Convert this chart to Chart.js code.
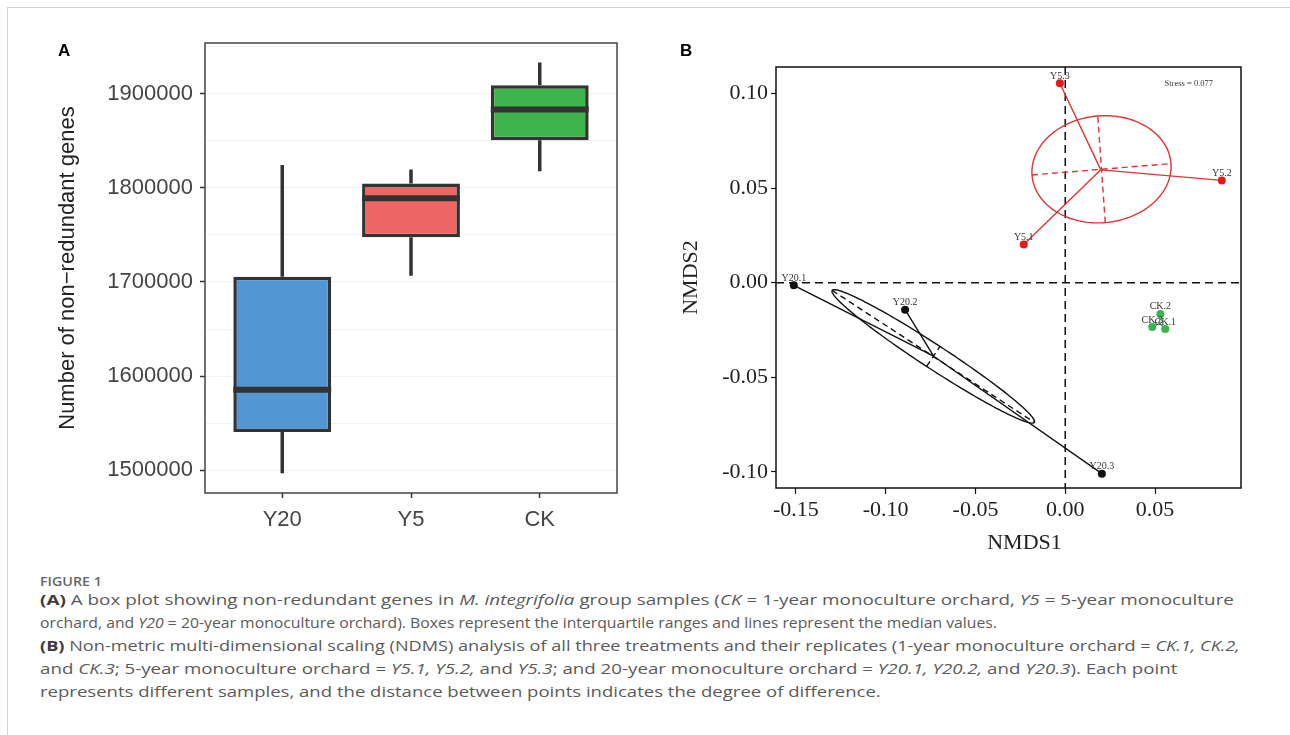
<!DOCTYPE html>
<html>
<head>
<meta charset="utf-8">
<title>Figure 1</title>
<script src="https://cdn.jsdelivr.net/npm/chart.js@4.4.1/dist/chart.umd.min.js"></script>
<style>
  body { margin: 0; background: #fff; width: 1290px; height: 735px; position: relative; overflow: hidden; font-family: "Open Sans", sans-serif; }
  .frame { position: absolute; left: 7px; top: 7px; right: -2px; bottom: -2px; border-top: 1px solid #d2d2d2; border-left: 1px solid #d2d2d2; }
  #boxA { position: absolute; left: 0; top: 0; }
  #nmdsB { position: absolute; left: 640px; top: 0; }
  .plab { position: absolute; font: bold 17px "Liberation Sans", Arial, sans-serif; color: #000; line-height: 17px; }
  .fig { position: absolute; left: 40px; top: 573px; font-size: 13px; line-height: 16px; font-weight: 600; color: #666; transform: scaleX(1.1); transform-origin: 0 0; }
  .cap { position: absolute; left: 40px; top: 588px; font-size: 15px; line-height: 23px; color: #5a5a5a; white-space: nowrap; }
  .cap div { transform-origin: 0 0; }
  .cap b { color: #3c3c3c; }
</style>
</head>
<body>
<div class="frame"></div>
<canvas id="boxA" width="640" height="560"></canvas>
<canvas id="nmdsB" width="650" height="560"></canvas>
<div class="plab" style="left:58px;top:42px;">A</div>
<div class="plab" style="left:680px;top:42px;">B</div>
<div class="fig">FIGURE 1</div>
<div class="cap">
<div style="transform:scaleX(1.257)"><b>(A)</b> A box plot showing non-redundant genes in <i>M. integrifolia</i> group samples (<i>CK</i> = 1-year monoculture orchard, <i>Y5</i> = 5-year monoculture</div>
<div style="transform:scaleX(1.051)">orchard, and <i>Y20</i> = 20-year monoculture orchard). Boxes represent the interquartile ranges and lines represent the median values.</div>
<div style="transform:scaleX(1.209)"><b>(B)</b> Non-metric multi-dimensional scaling (NDMS) analysis of all three treatments and their replicates (1-year monoculture orchard = <i>CK.1, CK.2,</i></div>
<div style="transform:scaleX(1.248)">and <i>CK.3</i>; 5-year monoculture orchard = <i>Y5.1, Y5.2,</i> and <i>Y5.3</i>; and 20-year monoculture orchard = <i>Y20.1, Y20.2,</i> and <i>Y20.3</i>). Each point</div>
<div style="transform:scaleX(1.236)">represents different samples, and the distance between points indicates the degree of difference.</div>
</div>
<script>
// ---- panel A: box plot ----
const groups = ['Y20', 'Y5', 'CK'];
const whiskerLow = [1497000, 1706700, 1817600];
const q1 = [1540700, 1747400, 1850500];
const median = [1585500, 1788700, 1883000];
const q3 = [1705600, 1804600, 1908800];
const whiskerHigh = [1824000, 1819400, 1932900];
const boxColors = ['#5396d4', '#ef6464', '#3cb44a'];
const yTicksA = [1500000, 1550000, 1600000, 1650000, 1700000, 1750000, 1800000, 1850000, 1900000, 1950000];

// ---- panel B: NMDS ----
const y20Names = ['Y20.1', 'Y20.2', 'Y20.3'];
const y20X = [-0.1512, -0.0892, 0.0204];
const y20Y = [-0.0014, -0.0143, -0.1010];
const y5Names = ['Y5.1', 'Y5.2', 'Y5.3'];
const y5X = [-0.0231, 0.0872, -0.0030];
const y5Y = [0.0202, 0.0541, 0.1055];
const ckNames = ['CK.1', 'CK.2', 'CK.3'];
const ckX = [0.0557, 0.0530, 0.0485];
const ckY = [-0.0245, -0.0165, -0.0235];
// spider hubs and ellipse (centre, half major axis, half minor axis)
const y20Hub = [-0.0733, -0.0389];
const y20Centre = [-0.0735, -0.0390];
const y20Major = [0.0563, -0.0349];
const y20Minor = [0.0037, 0.0053];
const y5Hub = [0.0198, 0.0597];
const y5Centre = [0.0202, 0.0600];
const y5Major = [0.0387, 0.0030];
const y5Minor = [-0.0021, 0.0282];
const ckHub = [0.0524, -0.0215];
const xTicksB = [-0.15, -0.10, -0.05, 0, 0.05];
const yTicksB = [-0.10, -0.05, 0, 0.05, 0.10];
const stressText = 'Stress = 0.077';

Chart.defaults.font.family = '"Liberation Sans", Arial, sans-serif';
Chart.defaults.color = '#444';

const boxDecor = {
  id: 'boxDecor',
  beforeDatasetsDraw(chart) {
    const { ctx, scales: { x, y } } = chart;
    ctx.save();
    ctx.strokeStyle = '#333';
    ctx.lineWidth = 3.5;
    groups.forEach((g, i) => {
      const px = x.getPixelForValue(i + 1);
      ctx.beginPath();
      ctx.moveTo(px, y.getPixelForValue(whiskerLow[i]));
      ctx.lineTo(px, y.getPixelForValue(q1[i]));
      ctx.moveTo(px, y.getPixelForValue(q3[i]));
      ctx.lineTo(px, y.getPixelForValue(whiskerHigh[i]));
      ctx.stroke();
    });
    ctx.restore();
  },
  afterDatasetsDraw(chart) {
    const { ctx, chartArea: a, scales: { y } } = chart;
    const bars = chart.getDatasetMeta(0).data;
    ctx.save();
    ctx.strokeStyle = '#333';
    ctx.lineWidth = 6;
    bars.forEach((b, i) => {
      const py = y.getPixelForValue(median[i]);
      ctx.beginPath();
      ctx.moveTo(b.x - b.width / 2, py);
      ctx.lineTo(b.x + b.width / 2, py);
      ctx.stroke();
    });
    ctx.lineWidth = 1.5;
    ctx.strokeStyle = '#444';
    ctx.strokeRect(a.left, a.top, a.right - a.left, a.bottom - a.top);
    ctx.restore();
  }
};

new Chart(document.getElementById('boxA'), {
  type: 'bar',
  data: {
    datasets: [{
      data: groups.map((g, i) => ({ x: i + 1, y: [q1[i], q3[i]] })),
      backgroundColor: boxColors,
      borderColor: '#333',
      borderWidth: 3.5,
      borderSkipped: false,
      barPercentage: 0.76,
      categoryPercentage: 1
    }]
  },
  options: {
    responsive: false,
    animation: false,
    layout: { padding: { top: 43, right: 23, left: 0, bottom: 0 } },
    plugins: { legend: { display: false }, tooltip: { enabled: false } },
    scales: {
      x: {
        type: 'linear',
        min: 0.4,
        max: 3.6,
        offset: false,
        afterBuildTicks: s => { s.ticks = groups.map((g, i) => ({ value: i + 1 })); },
        afterFit: s => { s.height = 67; },
        grid: { offset: false, drawOnChartArea: false, tickLength: 5, tickColor: '#333', tickWidth: 1.5 },
        border: { display: false },
        ticks: { padding: 9, color: '#444', font: { size: 22 }, callback: (v, i) => groups[i] }
      },
      y: {
        min: 1476000,
        max: 1953600,
        afterBuildTicks: s => { s.ticks = yTicksA.map(v => ({ value: v })); },
        afterFit: s => { s.width = 205; },
        grid: {
          color: '#f2f2f2',
          lineWidth: 1,
          tickLength: 5,
          tickWidth: 1.5,
          tickColor: c => (c.tick && c.tick.value % 100000 === 0 ? '#333' : 'rgba(0,0,0,0)')
        },
        border: { display: false },
        ticks: { padding: 7, color: '#444', font: { size: 22 }, callback: v => (v % 100000 === 0 ? String(v) : '') },
        title: { display: true, text: 'Number of non\u2212redundant genes', color: '#222', font: { size: 22 }, padding: { top: 55, bottom: 0 } }
      }
    }
  },
  plugins: [boxDecor]
});

// ---- panel B ----
const groupsB = [
  { names: y20Names, xs: y20X, ys: y20Y, hub: y20Hub, centre: y20Centre, major: y20Major, minor: y20Minor, point: '#111', line: '#111' },
  { names: y5Names, xs: y5X, ys: y5Y, hub: y5Hub, centre: y5Centre, major: y5Major, minor: y5Minor, point: '#e31a1c', line: '#dd3434' },
  { names: ckNames, xs: ckX, ys: ckY, hub: ckHub, centre: null, major: null, minor: null, point: '#3cb44a', line: '#3cb44a' }
];
const serif = '"Liberation Serif", "Times New Roman", serif';

const nmdsDecor = {
  id: 'nmdsDecor',
  beforeDatasetsDraw(chart) {
    const { ctx, chartArea: a, scales: { x, y } } = chart;
    ctx.save();
    ctx.strokeStyle = '#111';
    ctx.lineWidth = 1.5;
    ctx.setLineDash([8, 5]);
    const x0 = x.getPixelForValue(0), y0 = y.getPixelForValue(0);
    ctx.beginPath();
    ctx.moveTo(x0, a.top); ctx.lineTo(x0, a.bottom);
    ctx.moveTo(a.left, y0); ctx.lineTo(a.right, y0);
    ctx.stroke();
    groupsB.forEach(g => {
      ctx.strokeStyle = g.line;
      ctx.lineWidth = 1.4;
      ctx.setLineDash([]);
      const hx = x.getPixelForValue(g.hub[0]), hy = y.getPixelForValue(g.hub[1]);
      ctx.beginPath();
      g.xs.forEach((v, i) => {
        ctx.moveTo(hx, hy);
        ctx.lineTo(x.getPixelForValue(v), y.getPixelForValue(g.ys[i]));
      });
      ctx.stroke();
      if (!g.centre) return;
      const cx = x.getPixelForValue(g.centre[0]), cy = y.getPixelForValue(g.centre[1]);
      const ux = x.getPixelForValue(g.centre[0] + g.major[0]) - cx;
      const uy = y.getPixelForValue(g.centre[1] + g.major[1]) - cy;
      const vx = x.getPixelForValue(g.centre[0] + g.minor[0]) - cx;
      const vy = y.getPixelForValue(g.centre[1] + g.minor[1]) - cy;
      ctx.beginPath();
      for (let k = 0; k <= 180; k++) {
        const t = k / 180 * Math.PI * 2;
        const px = cx + ux * Math.cos(t) + vx * Math.sin(t);
        const py = cy + uy * Math.cos(t) + vy * Math.sin(t);
        if (k === 0) ctx.moveTo(px, py); else ctx.lineTo(px, py);
      }
      ctx.stroke();
      ctx.setLineDash([6, 4]);
      ctx.beginPath();
      ctx.moveTo(cx - ux, cy - uy); ctx.lineTo(cx + ux, cy + uy);
      ctx.moveTo(cx - vx, cy - vy); ctx.lineTo(cx + vx, cy + vy);
      ctx.stroke();
    });
    ctx.restore();
  },
  afterDatasetsDraw(chart) {
    const { ctx, chartArea: a, scales: { x, y } } = chart;
    ctx.save();
    ctx.fillStyle = '#333';
    ctx.font = '10px ' + serif;
    ctx.textAlign = 'center';
    ctx.textBaseline = 'alphabetic';
    groupsB.forEach(g => {
      g.names.forEach((n, i) => {
        ctx.fillText(n, x.getPixelForValue(g.xs[i]), y.getPixelForValue(g.ys[i]) - 4.5);
      });
    });
    ctx.font = '8.5px ' + serif;
    ctx.textAlign = 'right';
    ctx.textBaseline = 'middle';
    ctx.fillText(stressText, a.right - 28, a.top + 17);
    ctx.font = '22px ' + serif;
    ctx.fillStyle = '#222';
    ctx.textAlign = 'center';
    ctx.fillText('NMDS1', (a.left + a.right) / 2 + 16, 543);
    ctx.strokeStyle = '#111';
    ctx.lineWidth = 1.5;
    ctx.strokeRect(a.left, a.top, a.right - a.left, a.bottom - a.top);
    ctx.restore();
  }
};

new Chart(document.getElementById('nmdsB'), {
  type: 'scatter',
  data: {
    datasets: groupsB.map(g => ({
      data: g.xs.map((v, i) => ({ x: v, y: g.ys[i] })),
      backgroundColor: g.point,
      borderWidth: 0,
      pointRadius: 4
    }))
  },
  options: {
    responsive: false,
    animation: false,
    layout: { padding: { top: 67, right: 49, left: 0, bottom: 0 } },
    plugins: { legend: { display: false }, tooltip: { enabled: false } },
    scales: {
      x: {
        type: 'linear',
        min: -0.1611,
        max: 0.0979,
        afterBuildTicks: s => { s.ticks = xTicksB.map(v => ({ value: v })); },
        afterFit: s => { s.height = 72; },
        grid: { drawOnChartArea: false, tickLength: 6, tickColor: '#111', tickWidth: 1.2 },
        border: { display: false },
        ticks: { padding: 3, color: '#222', font: { family: serif, size: 22 }, callback: v => v.toFixed(2) }
      },
      y: {
        min: -0.1086,
        max: 0.1141,
        afterBuildTicks: s => { s.ticks = yTicksB.map(v => ({ value: v })); },
        afterFit: s => { s.width = 136; },
        grid: { drawOnChartArea: false, tickLength: 5, tickColor: '#111', tickWidth: 1.2 },
        border: { display: false },
        ticks: { padding: 3, color: '#222', font: { family: serif, size: 22 }, callback: v => v.toFixed(2) },
        title: { display: true, text: 'NMDS2', color: '#222', font: { family: serif, size: 22 }, padding: { top: 38, bottom: 0 } }
      }
    }
  },
  plugins: [nmdsDecor]
});
</script>
</body>
</html>
